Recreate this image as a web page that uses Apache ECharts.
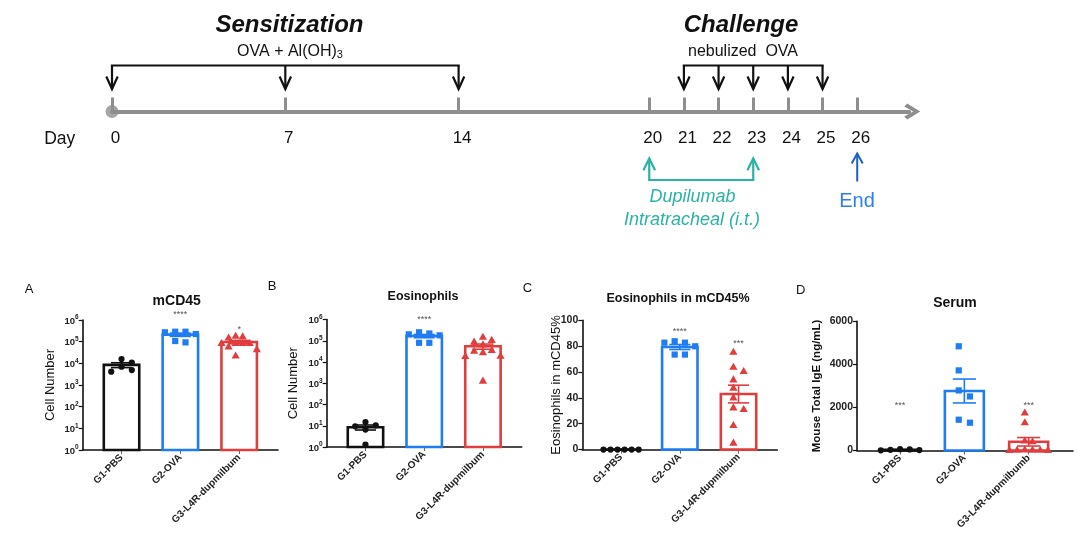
<!DOCTYPE html>
<html>
<head>
<meta charset="utf-8">
<script src="https://cdn.jsdelivr.net/npm/echarts@6.0.0/dist/echarts.min.js"></script>
<style>
html, body { margin: 0; padding: 0; background: #ffffff; }
#chart { width: 1080px; height: 555px; }
</style>
</head>
<body>
<div id="chart"></div>
<script>
// ================= DATA =================
// Timeline (compressed, broken day axis: blank categories are spacer slots)
const timelineAxis = ['0', ...Array(9).fill(''), '7', ...Array(9).fill(''), '14', ...Array(10).fill(''),
  '20', '', '21', '', '22', '', '23', '', '24', '', '25', '', '26', '', '', ''];
const sensitizationDays = ['0', '7', '14'];
const challengeDays = ['21', '22', '23', '24', '25'];
const dupilumabDays = ['20', '23'];
const endDays = ['26'];

// Panel categories
const groupLabels = ['G1-PBS', 'G2-OVA', 'G3-L4R-dupmilbum'];
const groupLabelsD = ['G1-PBS', 'G2-OVA', 'G3-L4R-dupmilbumb'];

// A: mCD45 cell number
const mcd45G1 = [15800, 4100, 7000, 10700, 4900];
const mcd45G2 = [288000, 93000, 225000, 270000, 107000, 288000];
const mcd45G3 = [152000, 84000, 182000, 84000, 44000, 22500, 84000, 59000, 170000, 84000];
const mcd45Stars = ['', '****', '*'];
const mcd45StarLevels = [null, 1.8e6, 3.8e5];

// B: Eosinophils cell number
const eosG1 = [10.5, 15, 6.6, 9.4, 1.3];
const eosG2 = [200000, 250000, 180000, 220000, 80000, 80000];
const eosG3 = [151000, 66000, 33000, 18600, 89000, 28000, 1290, 107000, 36000, 19300];
const eosStars = ['', '****', ''];
const eosStarLevels = [null, 1.0e6, null];

// C: Eosinophils in mCD45 (%)
const pctG1 = [0, 0, 0, 0, 0, 0];
const pctG2 = [82.7, 73.5, 83.8, 79.9, 82.7, 73.5];
const pctG3 = [75.5, 63.9, 60.6, 54.1, 47.7, 40.2, 32.5, 31.2, 18.8, 5.2];
const pctStars = ['', '****', '***'];
const pctStarLevels = [null, 91, 82];

// D: Serum total IgE (ng/mL)
const igeG1 = [30, 60, 20, 50, 10];
const igeG2 = [1290, 4840, 3720, 2790, 2510, 1430];
const igeG3 = [1750, 1300, 450, 420, 30, 20, 10, 40, 20, 10];
const igeStars = ['***', '', '***'];
const igeStarLevels = [2090, null, 2090];

// ================= STYLE =================
const FONT = '"Liberation Sans", Arial, Helvetica, sans-serif';
const GRAY = '#8e8e8e';
const TEAL = '#2ab3a3';
const BLUE_ARROW = '#1d5fc4';
const BLUE_TEXT = '#2b80f0';
const groupColors = ['#111111', '#1f7cf2', '#e23d3d'];

function tIdx(d) { return timelineAxis.indexOf(d); }
function mean(a) { return a.reduce((s, v) => s + v, 0) / a.length; }
function sem(a) {
  const m = mean(a);
  const v = a.reduce((s, x) => s + (x - m) * (x - m), 0) / (a.length - 1);
  return Math.sqrt(v / a.length);
}

// simple beeswarm dodge in pixel space
function swarm(ys, step, dMin, cap) {
  const order = ys.map((y, i) => i).sort((a, b) => ys[a] - ys[b]);
  const off = new Array(ys.length).fill(0);
  const placed = [];
  order.forEach(i => {
    for (let k = 0; k < 50; k++) {
      const n = Math.ceil(k / 2);
      const cand = k === 0 ? 0 : (k % 2 ? n : -n) * step;
      const ok = placed.every(j => Math.abs(off[j] - cand) > step * 0.9 || Math.abs(ys[j] - ys[i]) >= dMin);
      if (ok) { off[i] = cand; placed.push(i); break; }
    }
  });
  const mn = Math.min(...off), mx = Math.max(...off);
  const span = mx - mn, c = (mn + mx) / 2;
  const s = span > cap ? cap / span : 1;
  return off.map(o => (o - c) * s);
}

// ================= TIMELINE SERIES =================
function arrowSeries(days, color, cfg) {
  return {
    type: 'custom', xAxisIndex: 0, yAxisIndex: 0, silent: true, clip: false, z: 5,
    data: days.map(d => [tIdx(d), 0]),
    encode: { x: 0, y: 1 },
    renderItem(params, api) {
      const p = api.coord([api.value(0), 0]);
      const x = p[0], ay = p[1];
      const tipY = ay + cfg.tip, headY = tipY + cfg.head;
      const startY = ay + (cfg.bar != null ? cfg.bar : cfg.tail);
      const children = [
        { type: 'line', shape: { x1: x, y1: startY, x2: x, y2: tipY }, style: { stroke: color, lineWidth: cfg.lw } },
        { type: 'polyline', shape: { points: [[x - cfg.hw, headY], [x, tipY], [x + cfg.hw, headY]] },
          style: { stroke: color, lineWidth: cfg.lw, fill: 'none' } }
      ];
      if (cfg.bar != null && params.dataIndex === 0 && days.length > 1) {
        const q = api.coord([tIdx(days[days.length - 1]), 0]);
        children.push({ type: 'line', shape: { x1: x - cfg.lw / 2, y1: startY, x2: q[0] + cfg.lw / 2, y2: startY },
          style: { stroke: color, lineWidth: cfg.lw } });
      }
      return { type: 'group', children };
    }
  };
}

// ================= PANELS =================
const panels = [
  { groups: [mcd45G1, mcd45G2, mcd45G3], labels: groupLabels, stars: mcd45Stars, starLevels: mcd45StarLevels,
    log: true, yMin: 1, yMax: 1e6, xMin: -0.66, xMax: 2.66,
    grid: { left: 82.7, top: 320, width: 195.3, height: 130 },
    yName: 'Cell Number', yNameFont: { fontSize: 13, fontWeight: 'normal' }, yNameGap: 26 },
  { groups: [eosG1, eosG2, eosG3], labels: groupLabels, stars: eosStars, starLevels: eosStarLevels,
    log: true, yMin: 1, yMax: 1e6, xMin: -0.66, xMax: 2.66,
    grid: { left: 326.7, top: 319.5, width: 195, height: 127.5 },
    yName: 'Cell Number', yNameFont: { fontSize: 13, fontWeight: 'normal' }, yNameGap: 27 },
  { groups: [pctG1, pctG2, pctG3], labels: groupLabels, stars: pctStars, starLevels: pctStarLevels,
    log: false, yMin: 0, yMax: 100, interval: 20, xMin: -0.66, xMax: 2.66,
    grid: { left: 582.3, top: 320.3, width: 195, height: 129.3 },
    yName: 'Eosinophils in mCD45%', yNameFont: { fontSize: 13, fontWeight: 'normal' }, yNameGap: 19 },
  { groups: [igeG1, igeG2, igeG3], labels: groupLabelsD, stars: igeStars, starLevels: igeStarLevels,
    log: false, yMin: 0, yMax: 6000, interval: 2000, xMin: -0.67, xMax: 2.69,
    grid: { left: 857, top: 321.3, width: 216, height: 129.2 },
    yName: 'Mouse Total IgE (ng/mL)', yNameFont: { fontSize: 11.5, fontWeight: 'bold' }, yNameGap: 34 }
];

function unitOf(api, p) {
  const yr = p.log ? 1 : 0;
  return api.coord([1, yr])[0] - api.coord([0, yr])[0];
}

function barsSeries(p, gi) {
  return {
    type: 'custom', xAxisIndex: gi, yAxisIndex: gi, clip: false, silent: true, z: 3,
    encode: { x: 0, y: 1 },
    data: p.groups.map((arr, g) => [g, mean(arr), sem(arr)]),
    renderItem(params, api) {
      const g = api.value(0), m = api.value(1), e = api.value(2);
      const unit = unitOf(api, p);
      const base = api.coord([g, p.yMin]);
      const top = api.coord([g, m]);
      const bw = unit * 0.647 - 2.6;
      const col = groupColors[g];
      const hi = api.coord([g, m + e]), lo = api.coord([g, Math.max(m - e, p.log ? 1e-9 : -1e9)]);
      const ww = unit * 0.36;
      return { type: 'group', children: [
        { type: 'rect', shape: { x: top[0] - bw / 2, y: top[1], width: bw, height: base[1] - top[1] },
          style: { fill: 'none', stroke: col, lineWidth: 2.6 } },
        { type: 'line', shape: { x1: hi[0], y1: hi[1], x2: lo[0], y2: lo[1] }, style: { stroke: col, lineWidth: 1.6 } },
        { type: 'line', shape: { x1: hi[0] - ww / 2, y1: hi[1], x2: hi[0] + ww / 2, y2: hi[1] }, style: { stroke: col, lineWidth: 1.6 } },
        { type: 'line', shape: { x1: lo[0] - ww / 2, y1: lo[1], x2: lo[0] + ww / 2, y2: lo[1] }, style: { stroke: col, lineWidth: 1.6 } }
      ] };
    }
  };
}

function pointsSeries(p, gi) {
  const data = [];
  p.groups.forEach((arr, g) => arr.forEach((v, k) => data.push([g, v, k])));
  return {
    type: 'custom', xAxisIndex: gi, yAxisIndex: gi, clip: false, silent: true, z: 4,
    encode: { x: 0, y: 1 }, data,
    renderItem(params, api) {
      const g = api.value(0), k = api.value(2);
      const unit = unitOf(api, p);
      const vals = p.groups[g];
      const ys = vals.map(v => api.coord([g, v])[1]);
      const off = swarm(ys, unit * 0.175, 6.5, unit * 0.6);
      const c = api.coord([g, vals[k]]);
      const cx = c[0] + off[k], cy = c[1];
      const fill = groupColors[g];
      if (g === 0) return { type: 'circle', shape: { cx, cy, r: 3.1 }, style: { fill } };
      if (g === 1) return { type: 'rect', shape: { x: cx - 3.1, y: cy - 3.1, width: 6.2, height: 6.2 }, style: { fill } };
      return { type: 'polygon', shape: { points: [[cx, cy - 4.3], [cx + 4.1, cy + 2.8], [cx - 4.1, cy + 2.8]] }, style: { fill } };
    }
  };
}

function starsSeries(p, gi) {
  const data = [];
  p.stars.forEach((s, g) => { if (s) data.push([g, p.starLevels[g]]); });
  return {
    type: 'custom', xAxisIndex: gi, yAxisIndex: gi, clip: false, silent: true, z: 4,
    encode: { x: 0, y: 1 }, data,
    renderItem(params, api) {
      const g = api.value(0);
      const c = api.coord([g, api.value(1)]);
      return { type: 'text', x: c[0], y: c[1],
        style: { text: p.stars[g], font: '9px ' + FONT, fill: '#555', align: 'center', verticalAlign: 'middle',
          textAlign: 'center', textVerticalAlign: 'middle' } };
    }
  };
}

// ================= OPTION =================
const grids = [{ left: 112, top: 80, width: 797.2, height: 31.5 }];
const xAxes = [{
  gridIndex: 0, type: 'category', data: timelineAxis, boundaryGap: false,
  axisLine: { show: true, lineStyle: { color: GRAY, width: 4 },
    symbol: ['none', 'path://M8 0 L16 13 L13 16 L8 7 L3 16 L0 13 Z'], symbolSize: [16, 17], symbolOffset: [0, 3] },
  axisTick: { show: true, inside: true, length: 14, interval: (i, v) => v !== '', lineStyle: { color: GRAY, width: 3 } },
  axisLabel: { interval: 0, fontSize: 17, color: '#111', margin: 18, fontFamily: FONT, padding: [0, 0, 0, 7] },
  splitLine: { show: false }
}];
const yAxes = [{ gridIndex: 0, type: 'value', min: 0, max: 1, show: false }];

const series = [
  { type: 'scatter', xAxisIndex: 0, yAxisIndex: 0, data: [[tIdx('0'), 0]], symbol: 'circle', symbolSize: 13,
    itemStyle: { color: GRAY }, silent: true, z: 6 },
  arrowSeries(sensitizationDays, '#111', { bar: -46, tip: -22.5, head: -12.5, hw: 5.7, lw: 2.2 }),
  arrowSeries(challengeDays, '#111', { bar: -46, tip: -22.5, head: -12.5, hw: 5.7, lw: 2.2 }),
  arrowSeries(dupilumabDays, TEAL, { bar: 68.5, tip: 47, head: 11.7, hw: 5.8, lw: 2.2 }),
  arrowSeries(endDays, BLUE_ARROW, { bar: null, tail: 70, tip: 42, head: 10, hw: 5.5, lw: 2 })
];

panels.forEach((p, i) => {
  const gi = i + 1;
  grids.push(p.grid);
  xAxes.push({
    gridIndex: gi, type: 'value', min: p.xMin, max: p.xMax,
    axisLine: { show: true, onZero: false, lineStyle: { color: '#111', width: 1.6 } },
    axisTick: { show: true, customValues: [0, 1, 2], length: 4, lineStyle: { color: '#666', width: 1 } },
    axisLabel: { customValues: [0, 1, 2], formatter: v => p.labels[Math.round(v)], rotate: 45, fontSize: 10,
      fontWeight: 'bold', color: '#222', margin: 6, fontFamily: FONT },
    splitLine: { show: false }
  });
  const ya = {
    gridIndex: gi, min: p.yMin, max: p.yMax,
    axisLine: { show: true, onZero: false, lineStyle: { color: '#111', width: 1.6 } },
    axisTick: { show: true, length: 4, lineStyle: { color: '#111', width: 1.2 } },
    splitLine: { show: false },
    name: p.yName, nameLocation: 'middle', nameGap: p.yNameGap, nameRotate: 90, nameMoveOverlap: false,
    nameTextStyle: Object.assign({ color: '#111', fontFamily: FONT }, p.yNameFont)
  };
  if (p.log) {
    ya.type = 'log'; ya.logBase = 10; ya.splitNumber = 6;
    ya.axisLabel = { margin: 4, fontFamily: FONT,
      formatter: v => '{b|10}{s|' + Math.round(Math.log10(v)) + '}',
      rich: { b: { fontSize: 9.5, fontWeight: 'bold', color: '#222', lineHeight: 12, verticalAlign: 'bottom', fontFamily: FONT },
              s: { fontSize: 6.5, fontWeight: 'bold', color: '#222', lineHeight: 7, verticalAlign: 'top', fontFamily: FONT } } };
  } else {
    ya.type = 'value'; ya.interval = p.interval;
    ya.axisLabel = { margin: 4, fontSize: 10.5, fontWeight: 'bold', color: '#222', fontFamily: FONT,
      formatter: v => String(v) };
  }
  yAxes.push(ya);
  series.push(barsSeries(p, gi), pointsSeries(p, gi), starsSeries(p, gi));
});

function txt(x, y, text, font, fill, rich) {
  const st = { text, font, fill, align: 'center', verticalAlign: 'middle', textAlign: 'center', textVerticalAlign: 'middle' };
  if (rich) st.rich = rich;
  return { type: 'text', x, y, silent: true, z: 10, style: st };
}

const graphics = [
  txt(289.5, 25, 'Sensitization', 'italic bold 24px ' + FONT, '#111'),
  txt(290, 52, 'OVA + Al(OH){s|3}', '16px ' + FONT, '#111',
    { s: { fontSize: 11, fontFamily: FONT, fill: '#111', verticalAlign: 'bottom', lineHeight: 12 } }),
  txt(741, 25, 'Challenge', 'italic bold 24px ' + FONT, '#111'),
  txt(743, 52, 'nebulized  OVA', '16px ' + FONT, '#111'),
  txt(59.7, 139, 'Day', '17.5px ' + FONT, '#111'),
  txt(692.5, 197, 'Dupilumab', 'italic 18px ' + FONT, TEAL),
  txt(692, 220, 'Intratracheal (i.t.)', 'italic 18px ' + FONT, TEAL),
  txt(857, 201.5, 'End', '20px ' + FONT, BLUE_TEXT),
  txt(29, 289, 'A', '13px ' + FONT, '#111'),
  txt(272, 286, 'B', '13px ' + FONT, '#111'),
  txt(527.5, 288, 'C', '13px ' + FONT, '#111'),
  txt(800.7, 290.7, 'D', '13px ' + FONT, '#111'),
  txt(176.7, 300.7, 'mCD45', 'bold 14px ' + FONT, '#111'),
  txt(423, 296.7, 'Eosinophils', 'bold 12.5px ' + FONT, '#111'),
  txt(678, 299, 'Eosinophils in mCD45%', 'bold 12.5px ' + FONT, '#111'),
  txt(955, 303, 'Serum', 'bold 14px ' + FONT, '#111')
];

const chart = echarts.init(document.getElementById('chart'), null, { renderer: 'canvas' });
chart.setOption({
  animation: false,
  backgroundColor: '#ffffff',
  textStyle: { fontFamily: FONT },
  grid: grids,
  xAxis: xAxes,
  yAxis: yAxes,
  series: series,
  graphic: { elements: graphics }
});
</script>
</body>
</html>
